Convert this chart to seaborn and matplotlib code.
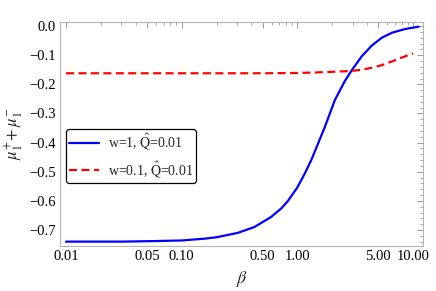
import numpy as np
import pandas as pd
import matplotlib
matplotlib.use("Agg")
import matplotlib.pyplot as plt
import seaborn as sns
from matplotlib.ticker import FixedLocator, NullFormatter, MultipleLocator, FixedFormatter

# ---- data ----
beta_w1 = [0.01, 0.03, 0.06, 0.1, 0.156, 0.2, 0.305, 0.425, 0.594, 0.726, 0.83, 1.0, 1.16, 1.32,
           1.73, 2.11, 2.58, 2.95, 3.6, 4.4, 5.37, 6.56, 8.57, 11.2]
mu_w1 = [-0.740, -0.740, -0.738, -0.736, -0.730, -0.725, -0.710, -0.690, -0.655, -0.626, -0.600,
         -0.554, -0.506, -0.460, -0.346, -0.254, -0.188, -0.152, -0.104, -0.067, -0.040, -0.023,
         -0.010, -0.002]

beta_w01 = [0.01, 0.1, 0.5, 1.0, 1.5, 2.0, 2.95, 3.6, 4.4, 5.4, 6.5, 8.0, 10.0]
mu_w01 = [-0.162, -0.162, -0.162, -0.161, -0.159, -0.157, -0.154, -0.150, -0.143, -0.134,
          -0.122, -0.108, -0.094]

label_w1 = r"w=1, $\mathrm{\hat{Q}}$=0.01"
label_w01 = r"w=0.1, $\mathrm{\hat{Q}}$=0.01"

xticks = [0.01, 0.05, 0.1, 0.5, 1.0, 5.0, 10.0]
xticklabels = ["0.01", "0.05", "0.10", "0.50", "1.00", "5.00", "10.00"]
yticks = [0.0, -0.1, -0.2, -0.3, -0.4, -0.5, -0.6, -0.7]
yticklabels = ["0.0", "\u22120.1", "\u22120.2", "\u22120.3", "\u22120.4", "\u22120.5", "\u22120.6", "\u22120.7"]

# ---- style ----
sns.set_style("white")
plt.rcParams["font.family"] = ["Liberation Serif", "DejaVu Serif"]
plt.rcParams["mathtext.fontset"] = "stix"
plt.rcParams["font.size"] = 10

fig = plt.figure(figsize=(4.36, 2.91), dpi=100)
ax = fig.add_axes([60 / 436, 1 - 246 / 291, (423 - 60) / 436, (246 - 22) / 291])

df1 = pd.DataFrame({"beta": beta_w1, "mu": mu_w1})
df2 = pd.DataFrame({"beta": beta_w01, "mu": mu_w01})

sns.lineplot(data=df1, x="beta", y="mu", ax=ax, color="#0000ff", lw=1.6, label=label_w1)
sns.lineplot(data=df2, x="beta", y="mu", ax=ax, color="#ff0000", lw=1.6, label=label_w01)
ax.lines[1].set_dashes((3.6, 2.0))
for ln in ax.lines:
    ln.set_solid_joinstyle("round")
    ln.set_dash_joinstyle("round")

ax.set_xscale("log")
ax.set_xlim(0.00887, 12.2)
ax.set_ylim(-0.755, 0.014)

ax.xaxis.set_major_locator(FixedLocator(xticks))
ax.xaxis.set_major_formatter(FixedFormatter(xticklabels))
minor_x = [m * d for d in (0.01, 0.1, 1.0) for m in range(2, 10) if not (m == 5)]
ax.xaxis.set_minor_locator(FixedLocator(minor_x))
ax.xaxis.set_minor_formatter(NullFormatter())

ax.yaxis.set_major_locator(FixedLocator(yticks))
ax.yaxis.set_major_formatter(FixedFormatter(yticklabels))
ax.yaxis.set_minor_locator(MultipleLocator(0.02))

for s in ax.spines.values():
    s.set_color("#b4b4b4")
    s.set_linewidth(0.8)
ax.tick_params(which="both", direction="in", top=True, right=True, color="#9a9a9a",
               labelsize=10.5, labelcolor="black", pad=3)
ax.tick_params(which="major", length=4, width=0.7)
ax.tick_params(which="minor", length=2, width=0.6)

ax.set_xlabel(r"$\beta$", fontsize=13, labelpad=4)
ax.set_ylabel(r"$\mu_1^{+}\!+\mu_1^{-}$", fontsize=12, labelpad=2)

leg = ax.legend(loc="upper left", bbox_to_anchor=(0.0165, 0.522), frameon=True, fancybox=True,
                edgecolor="black", facecolor="white", framealpha=1, fontsize=10,
                handlelength=2.2, borderpad=0.2, labelspacing=0.5, handletextpad=0.6,
                borderaxespad=0)
leg.get_frame().set_linewidth(0.9)

fig.savefig("out.png", dpi=100)
